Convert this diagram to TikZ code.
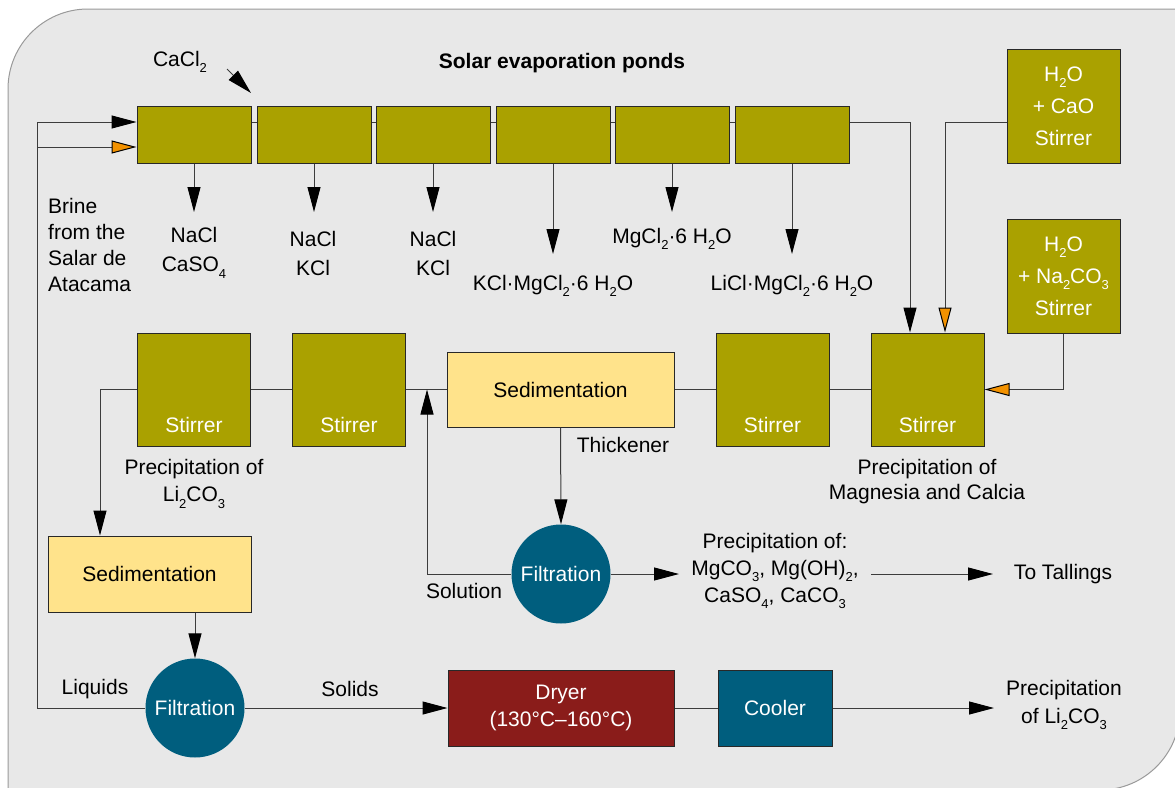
\documentclass[tikz,border=0pt]{standalone}
\usepackage{fontspec}
\setmainfont{Liberation Sans}
\usetikzlibrary{arrows.meta,calc}
\definecolor{olivebox}{RGB}{170,161,0}
\definecolor{tealc}{RGB}{0,94,126}
\definecolor{sedyellow}{RGB}{255,227,139}
\definecolor{dryred}{RGB}{138,28,26}
\definecolor{orangec}{RGB}{243,146,0}
\definecolor{panelfill}{RGB}{232,232,232}
\definecolor{panelline}{RGB}{154,154,154}
\definecolor{boxline}{RGB}{40,40,40}
\definecolor{linec}{RGB}{60,60,60}
\newcommand{\chs}[1]{\raisebox{-0.3em}{\fontsize{13}{13}\selectfont #1}}
\begin{document}
\begin{tikzpicture}[x=1pt,y=-1pt,
 every node/.style={font=\fontsize{21}{26}\selectfont, inner sep=0pt},
 obox/.style={draw=boxline, line width=1pt, fill=olivebox, text=white},
 pond/.style={obox, minimum width=114pt, minimum height=57pt},
 stirbox/.style={obox, minimum width=113pt, minimum height=113pt},
 chembox/.style={obox, minimum width=113pt, minimum height=114pt, align=center, font=\fontsize{21}{32}\selectfont},
 sedbox/.style={draw=boxline, line width=1pt, fill=sedyellow, text=black},
 filt/.style={circle, fill=tealc, text=white, minimum size=99pt},
 lbl/.style={text=black, align=center},
 wlbl/.style={text=white},
 conn/.style={draw=linec, line width=1pt},
 arr/.style={conn, -{Triangle[length=25pt,width=13pt,color=black]}},
 oarr/.style={conn, -{Triangle[length=25pt,width=13pt,color=black,fill=orangec]}},
]
\useasboundingbox (0,0) rectangle (1175,787);
% panel
\draw[fill=panelfill, draw=panelline, line width=1pt]
  (8,800) -- (8,89) arc[start angle=180, end angle=90, radius=80pt]
  -- (1180,9) -- (1180,710) arc[start angle=0, end angle=-90, radius=80pt]
  -- cycle;

% title and CaCl2
\node[lbl, font=\bfseries\fontsize{21}{26}\selectfont] (title) at (562,63) {Solar evaporation ponds};
\node[lbl] (cacl) at (180,62) {CaCl\chs{2}};
\coordinate (ca0) at (227,69);
\coordinate (ca1) at (251,93);

% ponds
\node[pond] (p1) at (194,134.5) {};
\node[pond] (p2) at (314,134.5) {};
\node[pond] (p3) at (433,134.5) {};
\node[pond] (p4) at (553,134.5) {};
\node[pond] (p5) at (672,134.5) {};
\node[pond] (p6) at (792,134.5) {};
\coordinate (lc) at (37,122);
\coordinate (oc) at (37,147);

% chemical boxes
\node[chembox] (c1) at (1063.5,106) {H\chs{2}O\\+ CaO\\Stirrer};
\node[chembox] (c2) at (1063.5,276) {H\chs{2}O\\+ Na\chs{2}CO\chs{3}\\Stirrer};

% pond products
\node[lbl, align=left, anchor=west] (brine) at (48,245) {Brine\\from the\\Salar de\\Atacama};
\node[lbl, font=\fontsize{21}{29}\selectfont] (l1) at (194,253) {NaCl\\CaSO\chs{4}};
\node[lbl, font=\fontsize{21}{29}\selectfont] (l2) at (313,253) {NaCl\\KCl};
\node[lbl, font=\fontsize{21}{29}\selectfont] (l3) at (433,253) {NaCl\\KCl};
\node[lbl] (l4) at (553,286) {KCl·MgCl\chs{2}·6 H\chs{2}O};
\node[lbl] (l5) at (672,239) {MgCl\chs{2}·6 H\chs{2}O};
\node[lbl] (l6) at (792,286) {LiCl·MgCl\chs{2}·6 H\chs{2}O};
\coordinate (d1) at (194,212);
\coordinate (d2) at (314,212);
\coordinate (d3) at (433,212);
\coordinate (d4) at (553,254);
\coordinate (d5) at (672,212);
\coordinate (d6) at (792,254);

% middle row
\node[stirbox] (s1) at (194,389.5) {};
\node[stirbox] (s2) at (349,389.5) {};
\node[sedbox, minimum width=227pt, minimum height=75pt] (sed) at (560.5,389.5) {Sedimentation};
\node[stirbox] (s3) at (772.5,389.5) {};
\node[stirbox] (s4) at (927.5,389.5) {};
\node[wlbl] (s1t) at ($(s1.south)+(0,-22)$) {Stirrer};
\node[wlbl] (s2t) at ($(s2.south)+(0,-22)$) {Stirrer};
\node[wlbl] (s3t) at ($(s3.south)+(0,-22)$) {Stirrer};
\node[wlbl] (s4t) at ($(s4.south)+(0,-22)$) {Stirrer};
\node[lbl, font=\fontsize{21}{27}\selectfont] (pli) at (194,484) {Precipitation of\\Li\chs{2}CO\chs{3}};
\node[lbl, font=\fontsize{21}{25}\selectfont] (pmg) at (927,482) {Precipitation of\\Magnesia and Calcia};
\node[lbl] (thick) at (623,445) {Thickener};

% filtration middle
\node[filt] (f1) at (561,574) {Filtration};
\node[lbl] (sol) at (464,591) {Solution};
\coordinate (jn) at (427,389.5);
\node[lbl, font=\fontsize{21}{27}\selectfont] (prc) at (775,571) {Precipitation of:\\MgCO\chs{3}, Mg(OH)\chs{2},\\CaSO\chs{4}, CaCO\chs{3}};
\coordinate (pr1) at (679,574);
\coordinate (ta0) at (871,574);
\coordinate (ta1) at (993,574);
\node[lbl] (tall) at (1063,574) {To Tallings};

% bottom
\node[sedbox, minimum width=203pt, minimum height=76pt] (sedL) at (149.5,574) {Sedimentation};
\node[filt] (f2) at (195,708) {Filtration};
\node[lbl] (liq) at (95,689) {Liquids};
\node[lbl] (solid) at (350,689) {Solids};
\node[draw=boxline, line width=1pt, fill=dryred, text=white, align=center, minimum width=226pt, minimum height=76pt, font=\fontsize{21}{27}\selectfont] (dry) at (561,708) {Dryer\\(130°C–160°C)};
\node[draw=boxline, line width=1pt, fill=tealc, text=white, minimum width=114pt, minimum height=76pt] (cool) at (775,708) {Cooler};
\coordinate (out1) at (994,708);
\node[lbl, font=\fontsize{21}{28}\selectfont] (pout) at (1064,705) {Precipitation\\of Li\chs{2}CO\chs{3}};

% connectors
\draw[arr] (ca0) -- (ca1);
\draw[arr] (f2.west) -| (lc) -- (p1.west |- lc);
\draw[oarr] (oc) -- (p1.west |- oc);
\draw[conn] (p1.east |- lc) -- (p2.west |- lc);
\draw[conn] (p2.east |- lc) -- (p3.west |- lc);
\draw[conn] (p3.east |- lc) -- (p4.west |- lc);
\draw[conn] (p4.east |- lc) -- (p5.west |- lc);
\draw[conn] (p5.east |- lc) -- (p6.west |- lc);
\draw[arr] (p1.south) -- (d1);
\draw[arr] (p2.south) -- (d2);
\draw[arr] (p3.south) -- (d3);
\draw[arr] (p4.south) -- (d4);
\draw[arr] (p5.south) -- (d5);
\draw[arr] (p6.south) -- (d6);
\draw[arr] (p6.east |- lc) -| ([xshift=-17.5pt]s4.north);
\draw[oarr] (c1.west |- lc) -| ([xshift=17.5pt]s4.north);
\draw[oarr] (c2.south) |- (s4.east);
\draw[conn] (s4.west) -- (s3.east);
\draw[conn] (s3.west) -- (sed.east);
\draw[conn] (sed.west) -- (s2.east);
\draw[conn] (s2.west) -- (s1.east);
\draw[arr] (s1.west) -| ([xshift=-49.5pt]sedL.north);
\draw[arr] (sed.south) -- (f1.north);
\draw[arr] (f1.west) -| (jn);
\draw[arr] (f1.east) -- (pr1);
\draw[arr] (ta0) -- (ta1);
\draw[arr] (sedL.south -| f2.north) -- (f2.north);
\draw[arr] (f2.east) -- (dry.west);
\draw[conn] (dry.east) -- (cool.west);
\draw[arr] (cool.east) -- (out1);
\end{tikzpicture}
\end{document}
